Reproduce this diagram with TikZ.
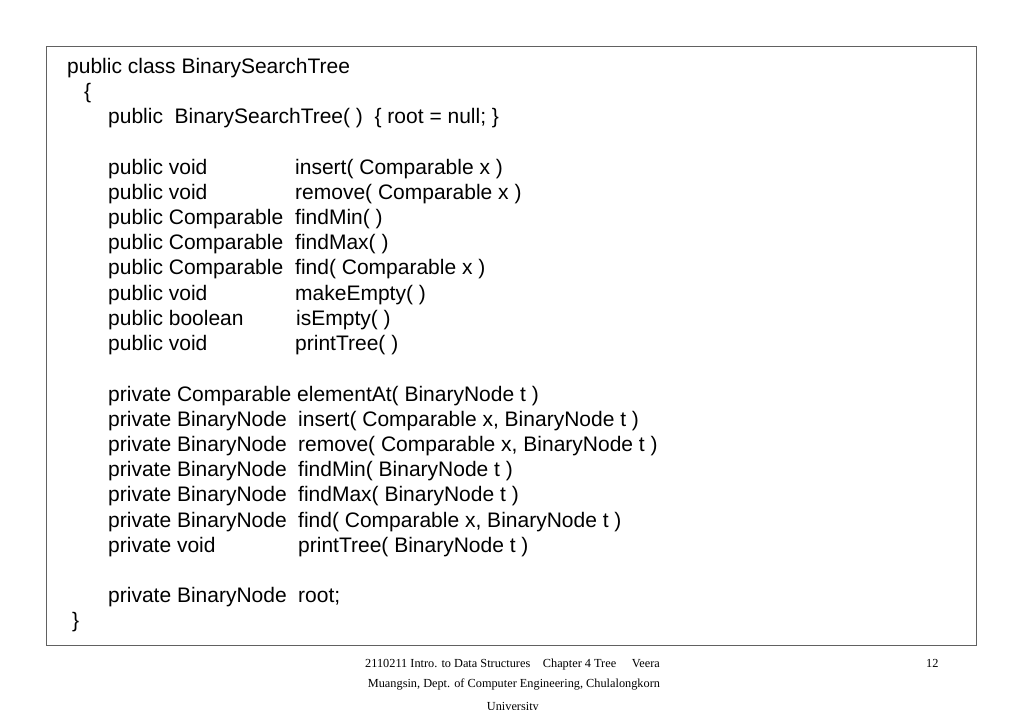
\documentclass[tikz,border=0pt]{standalone}
\usepackage{fontspec}
\newfontfamily\codefont{Liberation Sans}
\newfontfamily\footfont{Liberation Serif}
\begin{document}
\begin{tikzpicture}[x=1pt,y=-1pt,
  code/.style={anchor=base west, inner sep=0pt, font=\codefont\fontsize{21}{25}\selectfont},
  foot/.style={anchor=base west, inner sep=0pt, font=\footfont\fontsize{12.3}{14}\selectfont},
  frame/.style={draw=black!62, line width=1.3pt}]
\useasboundingbox (0,0) rectangle (1024,709);
\draw[frame] (46.5,46.5) rectangle (976.5,645.5);
% header
\node[code] (h0) at (67,73) {public class BinarySearchTree};
\node[code] (h1) at (84,98.2) {\{};
\node[code] (h2) at (108,123.4) {public~ BinarySearchTree( )~ \{ root = null; \}};
% public methods
\node[code] (a4) at (108,174) {public void};
\node[code] (b4) at (295,174) {insert( Comparable x )};
\node[code] (a5) at (108,199.2) {public void};
\node[code] (b5) at (295,199.2) {remove( Comparable x )};
\node[code] (a6) at (108,224.4) {public Comparable};
\node[code] (b6) at (295,224.4) {findMin( )};
\node[code] (a7) at (108,249.6) {public Comparable};
\node[code] (b7) at (295,249.6) {findMax( )};
\node[code] (a8) at (108,274.8) {public Comparable};
\node[code] (b8) at (295,274.8) {find( Comparable x )};
\node[code] (a9) at (108,300) {public void};
\node[code] (b9) at (295,300) {makeEmpty( )};
\node[code] (a10) at (108,325.2) {public boolean};
\node[code] (b10) at (296,325.2) {isEmpty( )};
\node[code] (a11) at (108,350.4) {public void};
\node[code] (b11) at (295,350.4) {printTree( )};
% private methods
\node[code] (a13) at (108,401) {private Comparable};
\node[code] (b13) at (297,401) {elementAt( BinaryNode t )};
\node[code] (a14) at (108,426.2) {private BinaryNode};
\node[code] (b14) at (298,426.2) {insert( Comparable x, BinaryNode t )};
\node[code] (a15) at (108,451.4) {private BinaryNode};
\node[code] (b15) at (298,451.4) {remove( Comparable x, BinaryNode t )};
\node[code] (a16) at (108,476.6) {private BinaryNode};
\node[code] (b16) at (298,476.6) {findMin( BinaryNode t )};
\node[code] (a17) at (108,501.8) {private BinaryNode};
\node[code] (b17) at (298,501.8) {findMax( BinaryNode t )};
\node[code] (a18) at (108,527) {private BinaryNode};
\node[code] (b18) at (298,527) {find( Comparable x, BinaryNode t )};
\node[code] (a19) at (108,552.2) {private void};
\node[code] (b19) at (298,552.2) {printTree( BinaryNode t )};
\node[code] (a21) at (108,602.6) {private BinaryNode};
\node[code] (b21) at (298,602.6) {root;};
\node[code] (h22) at (72,627.8) {\}};
% footer
\node[foot] (f1a) at (365,667) {2110211 Intro. to Data Structures};
\node[foot] (f1b) at (542.7,667) {Chapter 4 Tree};
\node[foot] (f1c) at (631.7,667) {Veera};
\node[foot] (f2) at (367.7,687.5) {Muangsin, Dept. of Computer Engineering, Chulalongkorn};
\node[foot] (f3) at (486.7,710.5) {University};
\node[foot] (pg) at (926,667) {12};
\end{tikzpicture}
\end{document}
